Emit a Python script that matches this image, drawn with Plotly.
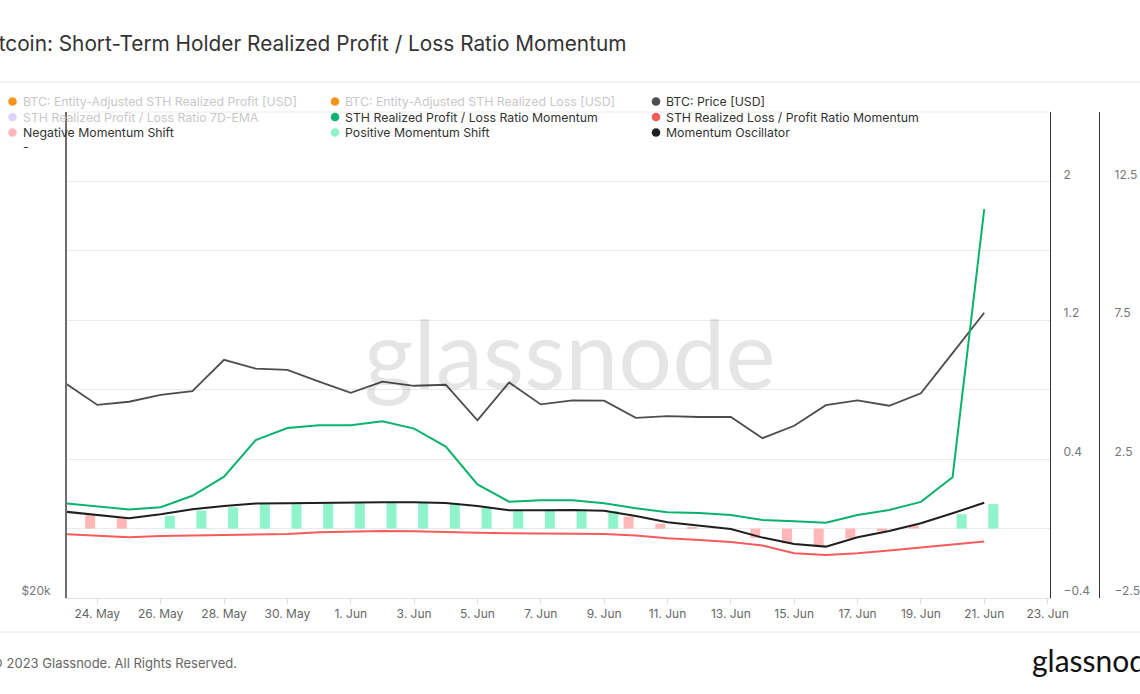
import pandas as pd
import plotly.graph_objects as go

# ---------------- data ----------------
dates = pd.date_range("2023-05-23", "2023-06-21", freq="D")

btc_price = [27160, 26340, 26460, 26720, 26860, 28090, 27740, 27690, 27230, 26800,
             27230, 27070, 27110, 25770, 27200, 26360, 26510, 26500, 25860, 25920,
             25890, 25890, 25120, 25570, 26330, 26510, 26310, 26780, 28360, 30040]

# right-most axis units (-2.5 ... 12.5)
profit_loss_momentum = [0.91, 0.81, 0.69, 0.77, 1.18, 1.87, 3.19, 3.62, 3.72, 3.72,
                        3.86, 3.60, 2.95, 1.59, 0.97, 1.02, 1.02, 0.91, 0.73, 0.59,
                        0.56, 0.49, 0.31, 0.26, 0.21, 0.49, 0.67, 0.96, 1.85, 11.5]

# inner right axis units (-0.4 ... 2)
loss_profit_momentum = [-0.033, -0.041, -0.050, -0.043, -0.039, -0.035, -0.033, -0.031, -0.021, -0.018,
                        -0.014, -0.016, -0.018, -0.024, -0.027, -0.029, -0.029, -0.031, -0.040, -0.056,
                        -0.066, -0.077, -0.097, -0.142, -0.152, -0.142, -0.127, -0.108, -0.092, -0.074]

momentum_oscillator = [0.097, 0.078, 0.059, 0.082, 0.111, 0.130, 0.144, 0.146, 0.149, 0.152,
                       0.152, 0.152, 0.148, 0.130, 0.105, 0.105, 0.107, 0.103, 0.073, 0.036,
                       0.017, -0.002, -0.052, -0.089, -0.104, -0.050, -0.014, 0.031, 0.088, 0.149]

negative_shift = [None, 0.077, 0.059, None, None, None, None, None, None, None,
                  None, None, None, None, None, None, None, None, 0.069, 0.028,
                  0.009, None, -0.054, -0.085, -0.097, -0.057, -0.016, 0.018, None, None]

positive_shift = [None, None, None, 0.074, 0.104, 0.123, 0.140, 0.141, 0.146, 0.146,
                  0.149, 0.149, 0.146, 0.121, 0.104, 0.104, 0.101, 0.101, None, None,
                  None, None, None, None, None, None, None, None, 0.083, 0.141]

title_text = "Bitcoin: Short-Term Holder Realized Profit / Loss Ratio Momentum"
legend_rows = [
    [("BTC: Entity-Adjusted STH Realized Profit [USD]", "#f7931a", False),
     ("BTC: Entity-Adjusted STH Realized Loss [USD]", "#f7931a", False),
     ("BTC: Price [USD]", "#4d4d4d", True)],
    [("STH Realized Profit / Loss Ratio 7D-EMA", "#ddd2f7", False),
     ("STH Realized Profit / Loss Ratio Momentum", "#0bb26b", True),
     ("STH Realized Loss / Profit Ratio Momentum", "#f65b5b", True)],
    [("Negative Momentum Shift", "#ffb7b7", True),
     ("Positive Momentum Shift", "#8ff3cb", True),
     ("Momentum Oscillator", "#1f1f1f", True)],
]

# ---------------- layout geometry (pixels) ----------------
W, H = 1140, 694
ML, MR, MT, MB = 67, 41, 112, 96
PW, PH = W - ML - MR, H - MT - MB
PLOT_RIGHT = 1050


def px(x):
    return (x - ML) / PW


def py(y):
    return (H - MB - y) / PH


DAY = 86400000
FONT = "Inter, Roboto, Noto Sans, sans-serif"

fig = go.Figure()

fig.add_trace(go.Bar(x=dates, y=negative_shift, yaxis="y2", name="Negative Momentum Shift",
                     marker=dict(color="#ffb7b7", line=dict(width=0)),
                     width=0.3156 * DAY, offset=-0.385 * DAY))
fig.add_trace(go.Bar(x=dates, y=positive_shift, yaxis="y2", name="Positive Momentum Shift",
                     marker=dict(color="#8ff3cb", line=dict(width=0)),
                     width=0.3156 * DAY, offset=0.129 * DAY))
fig.add_trace(go.Scatter(x=dates, y=btc_price, yaxis="y", mode="lines", name="BTC: Price [USD]",
                         line=dict(color="#4d4d4d", width=1.8)))
fig.add_trace(go.Scatter(x=dates, y=loss_profit_momentum, yaxis="y2", mode="lines",
                         name="STH Realized Loss / Profit Ratio Momentum",
                         line=dict(color="#f65b5b", width=2)))
fig.add_trace(go.Scatter(x=dates, y=momentum_oscillator, yaxis="y2", mode="lines",
                         name="Momentum Oscillator", line=dict(color="#1f1f1f", width=2)))
fig.add_trace(go.Scatter(x=dates, y=profit_loss_momentum, yaxis="y3", mode="lines",
                         name="STH Realized Profit / Loss Ratio Momentum",
                         line=dict(color="#0bb26b", width=2)))

grid = "#ebebeb"
tickfont = dict(family=FONT, size=12, color="#666666")

fig.update_layout(
    width=W, height=H,
    margin=dict(l=ML, r=MR, t=MT, b=MB, pad=0),
    paper_bgcolor="white", plot_bgcolor="white",
    showlegend=False, barmode="overlay",
    font=dict(family=FONT),
    xaxis=dict(type="date", domain=[0, (PLOT_RIGHT - ML) / PW],
               range=["2023-05-23 01:00", "2023-06-23 01:50"],
               tick0="2023-05-24", dtick=2 * DAY, tickformat="%-d. %b",
               ticks="outside", ticklen=5, tickcolor="#e0e0e0",
               showline=True, linecolor="#e0e0e0", linewidth=1,
               showgrid=False, zeroline=False, tickfont=tickfont, automargin=False),
    yaxis=dict(type="log", range=[4.30103, 4.60206], tickvals=[20000], ticktext=["$20k"],
               showgrid=False, zeroline=False, showline=True, linecolor="#6e6e6e", linewidth=2,
               ticks="", tickfont=dict(family=FONT, size=12, color="#777777"),
               ticklabelshift=-7, ticklabelstandoff=12, automargin=False),
    yaxis2=dict(overlaying="y", anchor="x", side="right", range=[-0.4, 2.4],
                tick0=-0.4, dtick=0.8, showgrid=True, gridcolor=grid, gridwidth=1,
                minor=dict(tick0=-0.4, dtick=0.4, showgrid=True, gridcolor=grid, gridwidth=1),
                zeroline=True, zerolinecolor=grid, zerolinewidth=1,
                showline=True, linecolor="#333333", linewidth=1.3, ticks="",
                tickfont=dict(family=FONT, size=12, color="#777777"),
                ticklabelshift=-7, ticklabelstandoff=10, automargin=False),
    yaxis3=dict(overlaying="y", anchor="free", position=1.0, side="right", range=[-2.5, 15],
                tick0=-2.5, dtick=5, showgrid=False, zeroline=False,
                showline=True, linecolor="#333333", linewidth=1.3, ticks="",
                tickfont=dict(family=FONT, size=12, color="#777777"),
                ticklabelshift=-7, ticklabelstandoff=12, automargin=False),
)

annotations = []
shapes = []

# title (left part cropped off like the reference)
annotations.append(dict(text=title_text, x=px(628), y=py(44), xref="paper", yref="paper",
                        xanchor="right", yanchor="middle", showarrow=False,
                        font=dict(family=FONT, size=20.8, color="#333333")))

# separator lines
for yy in (82, 632):
    shapes.append(dict(type="line", xref="paper", yref="paper", x0=px(0), x1=px(W),
                       y0=py(yy), y1=py(yy), line=dict(color="#e6e6e6", width=1)))
# top grid line of the plot area
shapes.append(dict(type="line", xref="paper", yref="paper", x0=0, x1=(PLOT_RIGHT - ML) / PW,
                   y0=1, y1=1, line=dict(color=grid, width=1)))

# legend
col_x = [12.5, 335, 656]
row_y = [101.5, 117, 132.5]
for r, row in enumerate(legend_rows):
    for c, (label, color, active) in enumerate(row):
        cx, cy = col_x[c], row_y[r]
        rad = 4.3
        shapes.append(dict(type="circle", xref="paper", yref="paper",
                           x0=px(cx - rad), x1=px(cx + rad), y0=py(cy + rad), y1=py(cy - rad),
                           fillcolor=color, line=dict(width=0)))
        annotations.append(dict(text=label, x=px(cx + 8.0), y=py(cy), xref="paper", yref="paper",
                                xanchor="left", yanchor="middle", showarrow=False,
                                font=dict(family=FONT, size=12.3,
                                          color="#333333" if active else "#c8c8c8")))
annotations.append(dict(text="-", x=px(21), y=py(147), xref="paper", yref="paper",
                        xanchor="left", yanchor="middle", showarrow=False,
                        font=dict(family=FONT, size=12.3, color="#333333")))

# watermark
annotations.append(dict(text="glassnode", x=px(570), y=py(352), xref="paper", yref="paper",
                        xanchor="center", yanchor="middle", showarrow=False,
                        font=dict(family="Lato, Inter, sans-serif", size=95, color="rgba(0,0,0,0.10)")))

# footer
annotations.append(dict(text="© 2023 Glassnode. All Rights Reserved.", x=px(239), y=py(663),
                        xref="paper", yref="paper", xanchor="right", yanchor="middle",
                        showarrow=False, font=dict(family=FONT, size=13, color="#666666")))
annotations.append(dict(text="glassnode", x=px(1030), y=py(660), xref="paper", yref="paper",
                        xanchor="left", yanchor="middle", showarrow=False,
                        font=dict(family="Lato, Inter, sans-serif", size=30, color="#111111")))

fig.update_layout(annotations=annotations, shapes=shapes)

fig.write_html("out.html", config={"displayModeBar": False},
               post_script="document.body.style.margin='0';document.body.style.overflow='hidden';")
